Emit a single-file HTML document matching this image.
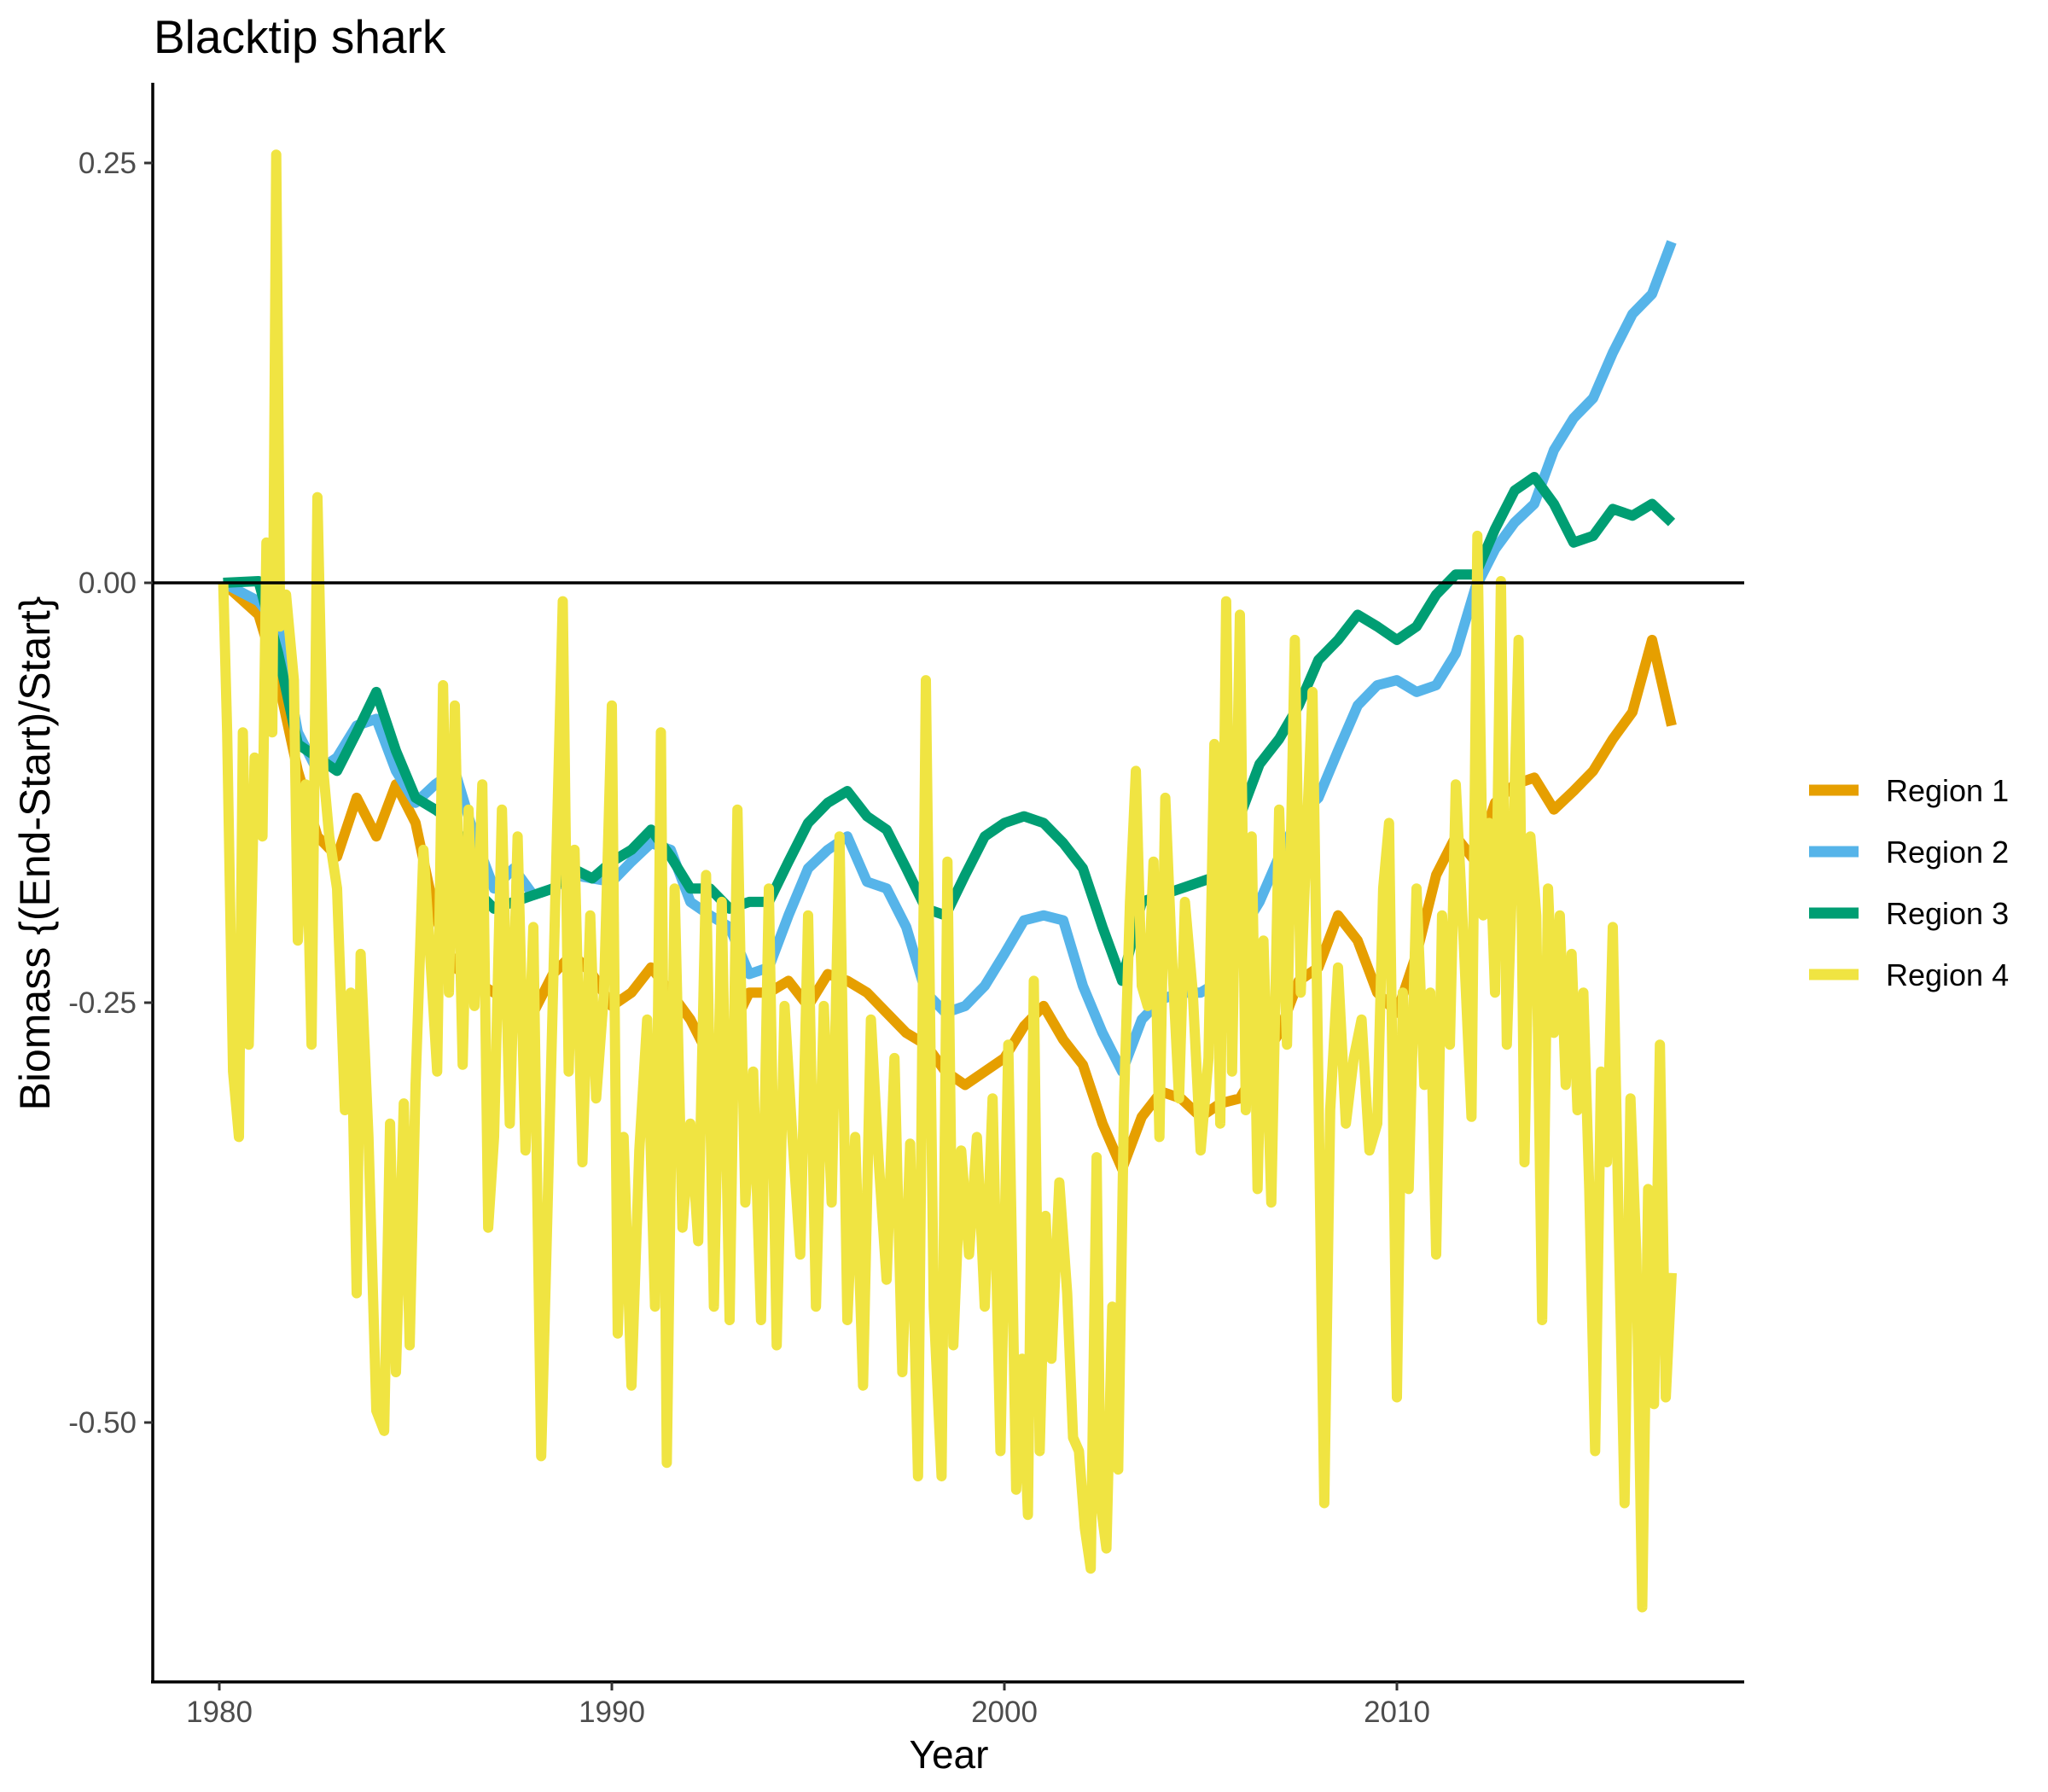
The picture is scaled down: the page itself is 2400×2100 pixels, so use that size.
<!DOCTYPE html>
<html><head><meta charset="utf-8"><style>
html,body{margin:0;padding:0;background:#fff;}
svg{display:block;font-family:"Liberation Sans",Arial,sans-serif;}
</style></head><body>
<svg id="chart" width="2400" height="2100" viewBox="0 0 2400 2100" xmlns="http://www.w3.org/2000/svg">
<text x="180" y="62" font-size="55" fill="#000">Blacktip shark</text>
<g id="series"></g>
<line x1="179" x2="2044" y1="683" y2="683" stroke="#000" stroke-width="3.5"/>
<line x1="179" x2="179" y1="97" y2="1972" stroke="#000" stroke-width="3.5"/>
<line x1="177" x2="2044" y1="1971" y2="1971" stroke="#000" stroke-width="3.5"/>
<g id="yticks"></g>
<g id="xticks"></g>
<text x="1112" y="2072" font-size="46" text-anchor="middle" fill="#000">Year</text>
<text transform="translate(58,1000) rotate(-90)" font-size="50" text-anchor="middle" fill="#000">Biomass {(End-Start)/Start}</text>
<g id="legend"></g>
</svg>
<script>
const yearsMain = [1980.1,1981,1981.5,1982,1982.5,1983,1983.5,1984,1984.5,1985,1985.5,1986,1986.5,1987,1987.5,1988,1988.5,1989,1989.5,1990,1990.5,1991,1991.5,1992,1992.5,1993,1993.5,1994,1994.5,1995,1995.5,1996,1996.5,1997,1997.5,1998,1998.5,1999,1999.5,2000,2000.5,2001,2001.5,2002,2002.5,2003,2003.5,2004,2004.5,2005,2005.5,2006,2006.5,2007,2007.5,2008,2008.5,2009,2009.5,2010,2010.5,2011,2011.5,2012,2012.5,2013,2013.5,2014,2014.5,2015,2015.5,2016,2016.5,2017];
const region1 = [0,-.019,-.058,-.112,-.151,-.163,-.128,-.151,-.120,-.143,-.198,-.229,-.237,-.244,-.252,-.256,-.233,-.221,-.233,-.252,-.244,-.229,-.244,-.260,-.283,-.268,-.244,-.244,-.237,-.252,-.233,-.237,-.244,-.256,-.268,-.275,-.291,-.299,-.291,-.283,-.264,-.252,-.272,-.287,-.322,-.349,-.318,-.303,-.307,-.318,-.310,-.307,-.287,-.268,-.237,-.229,-.198,-.213,-.244,-.256,-.221,-.174,-.151,-.166,-.131,-.120,-.116,-.135,-.124,-.112,-.093,-.077,-.034,-.085];
const region2 = [0,-.011,-.026,-.089,-.112,-.104,-.085,-.081,-.112,-.131,-.120,-.112,-.151,-.182,-.170,-.186,-.182,-.174,-.176,-.178,-.166,-.155,-.159,-.190,-.198,-.205,-.233,-.229,-.198,-.170,-.159,-.151,-.178,-.182,-.205,-.244,-.256,-.252,-.240,-.221,-.201,-.198,-.201,-.240,-.268,-.291,-.260,-.248,-.244,-.244,-.237,-.209,-.190,-.163,-.139,-.128,-.100,-.073,-.061,-.058,-.065,-.061,-.042,-.003,.020,.036,.047,.079,.098,.110,.137,.160,.172,.203];
const region3 = [0,.001,-.042,-.096,-.104,-.112,-.089,-.065,-.100,-.128,-.135,-.143,-.182,-.194,-.190,-.186,-.182,-.170,-.176,-.166,-.159,-.147,-.163,-.182,-.182,-.194,-.190,-.190,-.166,-.143,-.131,-.124,-.139,-.147,-.170,-.194,-.198,-.174,-.151,-.143,-.139,-.143,-.155,-.170,-.205,-.237,-.190,-.186,-.182,-.178,-.174,-.139,-.108,-.093,-.073,-.046,-.034,-.019,-.026,-.034,-.026,-.007,.005,.005,.032,.055,.063,.047,.024,.028,.044,.040,.047,.036];
const years4 = [1980.1,1980.2,1980.35,1980.5,1980.6,1980.75,1980.9,1981.1,1981.2,1981.35,1981.45,1981.55,1981.7,1981.9,1982,1982.2,1982.35,1982.5,1982.65,1982.8,1983,1983.2,1983.35,1983.5,1983.6,1983.8,1984,1984.2,1984.35,1984.5,1984.7,1984.85,1985,1985.2,1985.35,1985.55,1985.7,1985.85,1986,1986.2,1986.35,1986.5,1986.7,1986.85,1987,1987.2,1987.4,1987.6,1987.8,1988,1988.2,1988.4,1988.55,1988.75,1988.9,1989.05,1989.25,1989.45,1989.6,1989.8,1990,1990.15,1990.3,1990.5,1990.7,1990.9,1991.1,1991.25,1991.4,1991.6,1991.8,1992,1992.2,1992.4,1992.6,1992.8,1993,1993.2,1993.4,1993.6,1993.8,1994,1994.2,1994.4,1994.6,1994.8,1995,1995.2,1995.4,1995.6,1995.8,1996,1996.2,1996.4,1996.6,1996.8,1997,1997.2,1997.4,1997.6,1997.8,1998,1998.2,1998.4,1998.55,1998.7,1998.9,1999.1,1999.3,1999.5,1999.7,1999.9,2000.1,2000.3,2000.45,2000.6,2000.75,2000.9,2001.05,2001.2,2001.4,2001.6,2001.75,2001.9,2002.05,2002.2,2002.35,2002.45,2002.6,2002.75,2002.9,2003.05,2003.2,2003.35,2003.5,2003.65,2003.8,2003.95,2004.1,2004.25,2004.45,2004.6,2004.8,2005,2005.2,2005.35,2005.5,2005.65,2005.8,2006,2006.15,2006.3,2006.45,2006.6,2006.8,2007,2007.2,2007.4,2007.55,2007.7,2007.85,2008,2008.15,2008.3,2008.5,2008.7,2008.9,2009.1,2009.3,2009.5,2009.65,2009.8,2010,2010.15,2010.3,2010.5,2010.7,2010.85,2011,2011.15,2011.35,2011.5,2011.7,2011.9,2012.05,2012.2,2012.35,2012.5,2012.65,2012.8,2012.95,2013.1,2013.25,2013.4,2013.55,2013.7,2013.85,2014,2014.15,2014.3,2014.45,2014.6,2014.75,2014.9,2015.05,2015.2,2015.35,2015.5,2015.65,2015.8,2015.95,2016.1,2016.25,2016.4,2016.55,2016.7,2016.85,2017];
const region4 = [0,-.089,-.291,-.330,-.089,-.275,-.104,-.151,.024,-.089,.255,-.026,-.007,-.058,-.213,-.120,-.275,.051,-.112,-.151,-.182,-.314,-.244,-.423,-.221,-.330,-.493,-.505,-.322,-.470,-.310,-.454,-.299,-.159,-.213,-.291,-.061,-.244,-.073,-.287,-.135,-.252,-.120,-.384,-.330,-.135,-.322,-.151,-.338,-.205,-.520,-.338,-.198,-.011,-.291,-.159,-.345,-.198,-.307,-.244,-.073,-.447,-.330,-.478,-.338,-.260,-.431,-.089,-.524,-.182,-.384,-.322,-.392,-.174,-.431,-.190,-.439,-.135,-.369,-.291,-.439,-.182,-.454,-.252,-.330,-.400,-.198,-.431,-.252,-.369,-.151,-.439,-.330,-.478,-.260,-.345,-.415,-.283,-.470,-.334,-.532,-.058,-.431,-.532,-.166,-.454,-.338,-.400,-.330,-.431,-.307,-.517,-.275,-.540,-.462,-.555,-.237,-.517,-.377,-.462,-.357,-.423,-.509,-.517,-.563,-.587,-.342,-.548,-.575,-.431,-.528,-.307,-.190,-.112,-.240,-.252,-.166,-.330,-.128,-.213,-.307,-.190,-.244,-.338,-.283,-.096,-.322,-.011,-.291,-.019,-.314,-.151,-.361,-.213,-.369,-.135,-.275,-.034,-.244,-.151,-.065,-.299,-.548,-.314,-.229,-.322,-.283,-.260,-.338,-.322,-.182,-.143,-.485,-.244,-.361,-.182,-.299,-.244,-.400,-.198,-.275,-.120,-.213,-.318,.028,-.198,-.143,-.244,.001,-.275,-.166,-.034,-.345,-.151,-.198,-.439,-.182,-.268,-.198,-.299,-.221,-.314,-.244,-.361,-.517,-.291,-.345,-.205,-.384,-.548,-.307,-.400,-.610,-.361,-.489,-.275,-.485,-.411];
const seriesNames = ["Region 1","Region 2","Region 3","Region 4"];
const seriesColors = ["#E69F00","#56B4E9","#009E73","#F0E442"];
const yTickValues = [0.25,0.00,-0.25,-0.50];
const yTickLabels = ["0.25","0.00","-0.25","-0.50"];
const xTickValues = [1980,1990,2000,2010];
const xTickLabels = ["1980","1990","2000","2010"];

const NS = "http://www.w3.org/2000/svg";
function xs(yr){ return 257 + (yr - 1980) * 46.0; }
function ys(v){ return 683 - v * 1968; }
function mk(tag, attrs, parent){
  const el = document.createElementNS(NS, tag);
  for (const k in attrs) el.setAttribute(k, attrs[k]);
  parent.appendChild(el);
  return el;
}
const sg = document.getElementById("series");
const allX = [yearsMain, yearsMain, yearsMain, years4];
const allY = [region1, region2, region3, region4];
const slugs = ["region-1-line","region-2-line","region-3-line","region-4-line"];
for (let s = 0; s < 4; s++) {
  const pts = allX[s].map((yr, i) => xs(yr).toFixed(1) + "," + ys(allY[s][i]).toFixed(1)).join(" ");
  const pl = mk("polyline", {points: pts, fill: "none", stroke: seriesColors[s], "stroke-width": 12, "stroke-linejoin": "round", "stroke-linecap": "butt"}, sg);
  
  
}
const yt = document.getElementById("yticks");
yTickValues.forEach((v, i) => {
  const ln = mk("line", {x1: 169, x2: 179, y1: ys(v), y2: ys(v), stroke: "#333", "stroke-width": 3}, yt);
  
  
  const t = mk("text", {x: 160, y: ys(v) + 12, "font-size": 35, "text-anchor": "end", fill: "#4d4d4d"}, yt);
  t.textContent = yTickLabels[i];
  
  
});
const xt = document.getElementById("xticks");
xTickValues.forEach((v, i) => {
  const ln = mk("line", {x1: xs(v), x2: xs(v), y1: 1971, y2: 1981, stroke: "#333", "stroke-width": 3}, xt);
  
  
  const t = mk("text", {x: xs(v), y: 2018, "font-size": 35, "text-anchor": "middle", fill: "#4d4d4d"}, xt);
  t.textContent = xTickLabels[i];
  
  
});
const lg = document.getElementById("legend");
seriesNames.forEach((n, i) => {
  const cy = 926 + i * 72;
  const g = mk("g", {}, lg);
  
  
  mk("line", {x1: 2120, x2: 2178, y1: cy, y2: cy, stroke: seriesColors[i], "stroke-width": 13}, g);
  const t = mk("text", {x: 2210, y: cy + 13, "font-size": 36, fill: "#000"}, g);
  t.textContent = n;
});
</script>
</body></html>
